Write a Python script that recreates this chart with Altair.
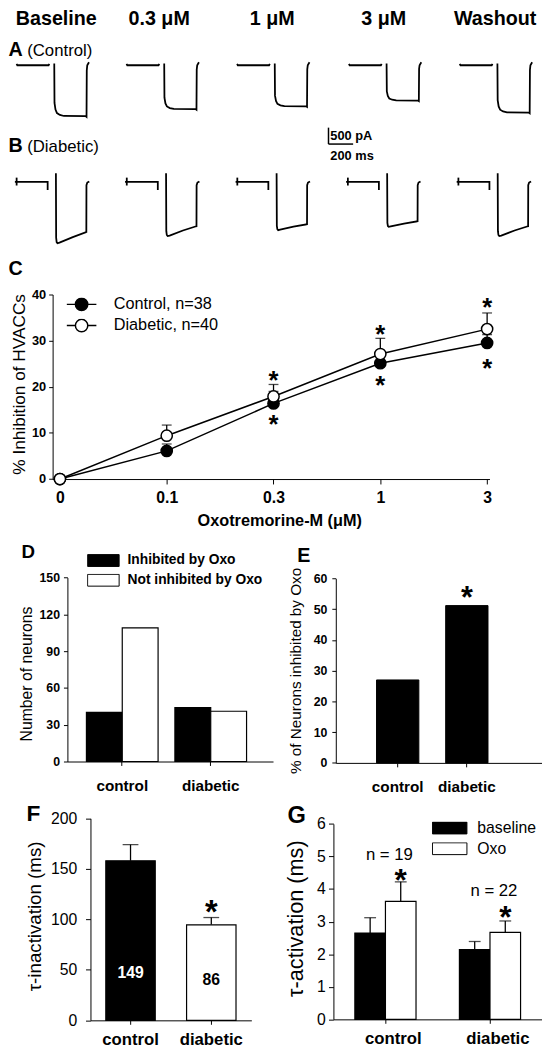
import altair as alt
import pandas as pd

FONT = "Liberation Sans"
OFF = 8
W, H = 542, 1042


def px(v):
    return v - OFF


# ---------------- data ----------------
conditions = ["Baseline", "0.3 μM", "1 μM", "3 μM", "Washout"]

# A: control traces (time in ms, current in pA)
a_hold_t = [0, 6, 260, 266]
a_hold_i = [40, 0, 0, 40]
a_step_t = [306, 308, 316, 328, 352, 384, 560, 568, 570, 574, 588]
a_step_baseline = [50, -1147, -1349, -1457, -1514, -1545, -1550, -1575, -155, 0, 90]
a_step_03 = [50, -988, -1161, -1255, -1304, -1331, -1335, -1356, -134, 0, 90]
a_step_1 = [50, -925, -1088, -1175, -1221, -1246, -1250, -1270, -125, 0, 90]
a_step_3 = [50, -796, -935, -1011, -1050, -1072, -1075, -1092, -108, 0, 90]
a_step_wash = [50, -1066, -1253, -1354, -1407, -1436, -1440, -1463, -144, 0, 90]

# B: diabetic traces
b_tick_t = [14, 14]
b_tick_i = [130, -110]
b_hold_t = [0, 266, 266]
b_hold_i = [0, 0, -250]
b_step_t = [333, 335, 339, 346, 362, 470, 578, 580, 581, 588, 604]
b_step_baseline = [260, -1702, -1833, -1870, -1851, -1680, -1530, -1550, -100, -20, 15]
b_step_03 = [260, -1502, -1617, -1650, -1634, -1480, -1350, -1370, -100, -20, 15]
b_step_1 = [260, -1338, -1441, -1470, -1455, -1365, -1290, -1310, -100, -20, 15]
b_step_3 = [260, -1247, -1343, -1370, -1356, -1270, -1200, -1220, -100, -20, 15]
b_step_wash = [260, -1502, -1617, -1650, -1634, -1480, -1350, -1370, -100, -20, 15]

scalebar_t = [0, 0, 0, 200]
scalebar_i = [500, 0, 0, 0]
scalebar_seg = [0, 0, 1, 1]

# C
conc_labels = ["0", "0.1", "0.3", "1", "3"]
series_c = ["Control, n=38", "Diabetic, n=40"]
ctrl_mean = [0, 6.1, 16.4, 25.1, 29.5]
ctrl_err = [0, 7.6, 19.0, 27.3, 31.3]
diab_mean = [0, 9.4, 17.9, 27.1, 32.5]
diab_err = [0, 11.7, 20.5, 30.5, 36.0]
star_conc = ["0.3", "1", "3", "0.3", "1", "3"]
star_y = [22.8, 32.8, 38.5, 13.2, 21.7, 25.4]

# D
groups = ["control", "diabetic"]
kinds_d = ["Inhibited by Oxo", "Not inhibited by Oxo"]
n_inhibited = [40, 44]
n_not_inhibited = [109, 41]

# E
pct_inhibited = [27.0, 51.2]
e_star_y = [56]

# F
tau_inact = [158, 94.6]
tau_inact_err = [174, 101.8]
tau_inact_n = ["149", "86"]
tau_inact_n_y = [46.5, 40]
f_star_y = [114.8]

# G
conds_g = ["baseline", "Oxo"]
tau_act_base = [2.65, 2.14]
tau_act_base_err = [3.12, 2.39]
tau_act_oxo = [3.62, 2.67]
tau_act_oxo_err = [4.22, 3.02]
g_n_text = ["n = 19", "n = 22"]
g_n_y = [5.05, 3.95]
g_star_y = [4.49, 3.38]

# ---------------- layout (page pixels) ----------------
A_X0 = [16.7, 128.3, 240.5, 354, 466.5]
B_X0 = [15, 126.8, 239, 351.2, 463.4]
A_Y0 = 58.3
B_Y0 = 176.7
MS_PER_PX = 8.0
PA_PER_PX = 30.0

BLACK = "black"
layers = []


def trace_df(segments):
    rows = []
    for s, (ts, cs) in enumerate(segments):
        for k, (t, c) in enumerate(zip(ts, cs)):
            rows.append({"seg": s, "k": k, "t": t, "i": c})
    return pd.DataFrame(rows)


def trace_layer(df, x0, y0):
    xs = alt.Scale(domain=[0, 600], range=[px(x0), px(x0 + 600 / MS_PER_PX)], nice=False, zero=False)
    ys = alt.Scale(domain=[-2000, 500], range=[px(y0 + 2000 / PA_PER_PX), px(y0 - 500 / PA_PER_PX)],
                   nice=False, zero=False)
    return alt.Chart(df).mark_line(color=BLACK, strokeWidth=1.8).encode(
        x=alt.X("t:Q", scale=xs, axis=None),
        y=alt.Y("i:Q", scale=ys, axis=None),
        detail="seg:N",
        order="k:Q",
    )


a_steps = [a_step_baseline, a_step_03, a_step_1, a_step_3, a_step_wash]
b_steps = [b_step_baseline, b_step_03, b_step_1, b_step_3, b_step_wash]
for j in range(5):
    layers.append(trace_layer(trace_df([(a_hold_t, a_hold_i), (a_step_t, a_steps[j])]), A_X0[j], A_Y0))
    layers.append(trace_layer(trace_df([(b_tick_t, b_tick_i), (b_hold_t, b_hold_i), (b_step_t, b_steps[j])]),
                              B_X0[j], B_Y0))

# scale bar
SB_X0, SB_Y0 = 333.3, 138.3
sb_x = alt.Scale(domain=[0, 600], range=[px(SB_X0), px(SB_X0 + 600 / MS_PER_PX)], nice=False, zero=False)
sb_y = alt.Scale(domain=[0, 500], range=[px(SB_Y0), px(SB_Y0 - 500 / PA_PER_PX)], nice=False, zero=False)
sb_df = pd.DataFrame({"t": scalebar_t, "i": scalebar_i, "seg": scalebar_seg, "k": [0, 1, 2, 3]})
sb_txt = pd.DataFrame({"t": [15, 15], "i": [250, -351], "s": ["500 pA", "200 ms"]})
layers.append(alt.layer(
    alt.Chart(sb_df).mark_line(color=BLACK, strokeWidth=1.5).encode(
        x=alt.X("t:Q", scale=sb_x, axis=None), y=alt.Y("i:Q", scale=sb_y, axis=None),
        detail="seg:N", order="k:Q"),
    alt.Chart(sb_txt).mark_text(font=FONT, fontSize=13, fontWeight="bold", align="left",
                                baseline="middle", color=BLACK).encode(
        x=alt.X("t:Q", scale=sb_x, axis=None), y=alt.Y("i:Q", scale=sb_y, axis=None), text="s:N"),
))


# ---------------- helpers ----------------
def label(text, x, y, size, weight="bold", align="left"):
    return alt.Chart(pd.DataFrame({"s": [text]})).mark_text(
        font=FONT, fontSize=size, fontWeight=weight, align=align, baseline="middle", color=BLACK
    ).encode(x=alt.value(px(x)), y=alt.value(px(y)), text="s:N")


def yaxis(ax_x, values, title, title_cx, title_cy, lsize, lweight, tsize, tick, pad):
    return alt.Axis(orient="left", offset=-px(ax_x), values=values, tickSize=tick, labelPadding=pad,
                    labelFontSize=lsize, labelFontWeight=lweight, labelFont=FONT, title=title,
                    titleFont=FONT, titleFontSize=tsize, titleFontWeight="normal",
                    titleX=title_cx - ax_x, titleY=px(title_cy), titleAngle=270, titleAlign="center",
                    titleBaseline="middle", grid=False, domainColor=BLACK, tickColor=BLACK,
                    labelColor=BLACK, titleColor=BLACK, labelOverlap=False)


def xaxis(ax_y, lsize, tick, pad, label_offset=0):
    return alt.Axis(orient="bottom", offset=px(ax_y) - H, tickSize=tick, labelPadding=pad,
                    labelFontSize=lsize, labelFontWeight="bold", labelFont=FONT, labelAngle=0,
                    labelOffset=label_offset, title=None, grid=False, domainColor=BLACK,
                    tickColor=BLACK, labelColor=BLACK, labelOverlap=False)


STAR = 0.27  # vertical centring of '*' for baseline middle

# ---------------- panel C ----------------
c_df = pd.DataFrame({
    "series": [series_c[0]] * 5 + [series_c[1]] * 5,
    "conc": conc_labels * 2,
    "mean": ctrl_mean + diab_mean,
    "err": ctrl_err + diab_err,
})
c_err_df = c_df[c_df["err"] > c_df["mean"]]
c_star_df = pd.DataFrame({"conc": star_conc, "y": star_y})

c_xs = alt.Scale(type="point", domain=conc_labels, range=[px(53.3), px(496.7)], padding=0.0452, align=0.755)
c_ys = alt.Scale(domain=[0, 40], range=[px(478.3), px(291)], nice=False, zero=False)
c_xa = alt.Axis(orient="bottom", offset=px(478.3) - H, tickSize=5, labelPadding=6, labelFontSize=16,
                labelFontWeight="bold", labelFont=FONT, labelAngle=0, title="Oxotremorine-M (μM)",
                titleFont=FONT, titleFontSize=16.5, titleFontWeight="bold", titleX=px(283.3), titleY=41.7,
                titleAlign="center", titleBaseline="middle", grid=False, domainColor=BLACK, tickColor=BLACK,
                labelColor=BLACK, titleColor=BLACK)
c_ya = yaxis(53.3, [0, 10, 20, 30, 40], "% Inhibition of HVACCs", 20, 381.7, 13, "bold", 17.5, 4, 3)
cX = alt.X("conc:N", scale=c_xs, axis=c_xa)
c_legend = alt.Legend(
    orient="none", legendX=px(66.7), legendY=px(301) - 7, title=None,
    symbolType="M-1,0H-0.42M0.42,0H1M-0.42,0A0.42,0.42,0,1,1,0.42,0A0.42,0.42,0,1,1,-0.42,0Z",
    symbolSize=900, symbolStrokeColor=BLACK, symbolStrokeWidth=1.5, labelFont=FONT, labelFontSize=16.5,
    labelColor=BLACK, labelOffset=16.6, clipHeight=14, rowPadding=4.5, padding=0)

panel_c = alt.layer(
    alt.Chart(c_df).mark_line(color=BLACK, strokeWidth=1.5).encode(
        x=cX, y=alt.Y("mean:Q", scale=c_ys, axis=c_ya), detail="series:N"),
    alt.Chart(c_err_df).mark_rule(color=BLACK, strokeWidth=1.3).encode(
        x=cX, y=alt.Y("mean:Q", scale=c_ys, axis=c_ya), y2="err:Q"),
    alt.Chart(c_err_df).mark_tick(color=BLACK, size=10, thickness=1.3).encode(
        x=cX, y=alt.Y("err:Q", scale=c_ys, axis=c_ya)),
    alt.Chart(c_df).mark_point(filled=True, size=130, stroke=BLACK, strokeWidth=1.5, opacity=1).encode(
        x=cX, y=alt.Y("mean:Q", scale=c_ys, axis=c_ya),
        fill=alt.Fill("series:N", scale=alt.Scale(domain=series_c, range=[BLACK, "white"]), legend=c_legend)),
    alt.Chart(c_star_df).mark_text(text="*", font=FONT, fontSize=26, fontWeight="bold", baseline="middle",
                                   dy=STAR * 26, color=BLACK).encode(
        x=cX, y=alt.Y("y:Q", scale=c_ys, axis=c_ya)),
)
layers.append(panel_c)

# ---------------- panel D ----------------
d_df = pd.DataFrame({"group": groups * 2, "kind": [kinds_d[0]] * 2 + [kinds_d[1]] * 2,
                     "n": n_inhibited + n_not_inhibited})
d_legend = alt.Legend(
    orient="none", legendX=px(88.3), legendY=px(561) - 6.5, title=None,
    symbolType="M-1,-0.375H1V0.375H-1Z", symbolSize=1024, symbolStrokeColor=BLACK, symbolStrokeWidth=1,
    labelFont=FONT, labelFontSize=14, labelFontWeight="bold", labelColor=BLACK, labelOffset=8,
    clipHeight=13, rowPadding=5, padding=0)
panel_d = alt.Chart(d_df).mark_bar(stroke=BLACK, strokeWidth=1.2).encode(
    x=alt.X("group:N", scale=alt.Scale(type="band", domain=groups, range=[px(68.3), px(277)],
                                       paddingInner=0.19, paddingOuter=0.257, align=0.418),
            axis=xaxis(765, 15.5, 4, 13)),
    xOffset=alt.XOffset("kind:N", scale=alt.Scale(domain=kinds_d, paddingInner=0, paddingOuter=0)),
    y=alt.Y("n:Q", scale=alt.Scale(domain=[0, 150], range=[px(765), px(578.3)], nice=False),
            axis=yaxis(68.3, [0, 30, 60, 90, 120, 150], "Number of neurons", 26.7, 675.7, 12.5, "bold", 16, 4, 4)),
    fill=alt.Fill("kind:N", scale=alt.Scale(domain=kinds_d, range=[BLACK, "white"]), legend=d_legend),
)
layers.append(panel_d)

# ---------------- panel E ----------------
e_df = pd.DataFrame({"group": groups, "pct": pct_inhibited})
e_star = pd.DataFrame({"group": ["diabetic"], "y": e_star_y})
e_xs = alt.Scale(type="band", domain=groups, range=[px(340.7), px(550)], paddingInner=0.388,
                 paddingOuter=0.685, align=0.43)
e_ys = alt.Scale(domain=[0, 60], range=[px(766.4), px(579.3)], nice=False)
e_xa = xaxis(766.4, 15.5, 4, 13)
e_ya = yaxis(340.7, [0, 10, 20, 30, 40, 50, 60], "% of Neurons inhibited by Oxo", 300, 672.5, 12.5, "bold",
             15.5, 4, 5)
panel_e = alt.layer(
    alt.Chart(e_df).mark_bar(fill=BLACK, stroke=BLACK, strokeWidth=1).encode(
        x=alt.X("group:N", scale=e_xs, axis=e_xa), y=alt.Y("pct:Q", scale=e_ys, axis=e_ya)),
    alt.Chart(e_star).mark_text(text="*", font=FONT, fontSize=31, fontWeight="bold", baseline="middle",
                                dy=STAR * 31, color=BLACK).encode(
        x=alt.X("group:N", scale=e_xs, axis=e_xa), y=alt.Y("y:Q", scale=e_ys, axis=e_ya)),
)
layers.append(panel_e)

# ---------------- panel F ----------------
f_df = pd.DataFrame({"group": groups, "tau": tau_inact, "err": tau_inact_err, "n": tau_inact_n,
                     "ny": tau_inact_n_y})
f_star = pd.DataFrame({"group": ["diabetic"], "y": f_star_y})
f_xs = alt.Scale(type="band", domain=groups, range=[px(91.7), px(255)], paddingInner=0.388, paddingOuter=0.19)
f_ys = alt.Scale(domain=[0, 200], range=[px(1027.7), px(822.7)], nice=False)
f_xa = xaxis(1027.7, 17, 4, 8)
f_ya = yaxis(91.7, [0, 50, 100, 150, 200], "τ-inactivation (ms)", 35, 921.7, 16, "normal", 19, 5, 9)
fX = alt.X("group:N", scale=f_xs, axis=f_xa)
panel_f = alt.layer(
    alt.Chart(f_df).mark_rule(color=BLACK, strokeWidth=1.3).encode(
        x=fX, y=alt.Y("tau:Q", scale=f_ys, axis=f_ya), y2="err:Q"),
    alt.Chart(f_df).mark_tick(color=BLACK, size=16, thickness=1.3).encode(
        x=fX, y=alt.Y("err:Q", scale=f_ys, axis=f_ya)),
    alt.Chart(f_df).mark_bar(stroke=BLACK, strokeWidth=1.2).encode(
        x=fX, y=alt.Y("tau:Q", scale=f_ys, axis=f_ya),
        fill=alt.Fill("group:N", scale=alt.Scale(domain=groups, range=[BLACK, "white"]), legend=None)),
    alt.Chart(f_df).mark_text(font=FONT, fontSize=16, fontWeight="bold", baseline="middle").encode(
        x=fX, y=alt.Y("ny:Q", scale=f_ys, axis=f_ya), text="n:N",
        color=alt.Color("group:N", scale=alt.Scale(domain=groups, range=["white", BLACK]), legend=None)),
    alt.Chart(f_star).mark_text(text="*", font=FONT, fontSize=33, fontWeight="bold", baseline="middle",
                                dy=STAR * 33, color=BLACK).encode(
        x=fX, y=alt.Y("y:Q", scale=f_ys, axis=f_ya)),
)
layers.append(panel_f)

# ---------------- panel G ----------------
g_df = pd.DataFrame({
    "group": groups * 2,
    "cond": [conds_g[0]] * 2 + [conds_g[1]] * 2,
    "tau": tau_act_base + tau_act_oxo,
    "err": tau_act_base_err + tau_act_oxo_err,
})
g_txt = pd.DataFrame({"group": groups, "s": g_n_text, "y": g_n_y})
g_star = pd.DataFrame({"group": groups, "cond": ["Oxo", "Oxo"], "y": g_star_y})
g_xs = alt.Scale(type="band", domain=groups, range=[px(338.3), px(550)], paddingInner=0.415, paddingOuter=0.205)
g_os = alt.Scale(domain=conds_g, paddingInner=0, paddingOuter=0)
g_ys = alt.Scale(domain=[0, 6], range=[px(1026.7), px(828.3)], nice=False)
g_xa = xaxis(1026.7, 17, 4, 8, label_offset=8)
g_ya = yaxis(338.3, [0, 1, 2, 3, 4, 5, 6], "τ-activation (ms)", 300, 924, 16, "normal", 22, 5, 3.3)
gX = alt.X("group:N", scale=g_xs, axis=g_xa)
gO = alt.XOffset("cond:N", scale=g_os)
g_legend = alt.Legend(
    orient="none", legendX=px(438.3), legendY=px(832.5) - 6.5, title=None,
    symbolType="M-1,-0.343H1V0.343H-1Z", symbolSize=1225, symbolStrokeColor=BLACK, symbolStrokeWidth=1,
    labelFont=FONT, labelFontSize=16, labelColor=BLACK, labelOffset=10, clipHeight=13, rowPadding=4,
    padding=0)
panel_g = alt.layer(
    alt.Chart(g_df).mark_rule(color=BLACK, strokeWidth=1.3).encode(
        x=gX, xOffset=gO, y=alt.Y("tau:Q", scale=g_ys, axis=g_ya), y2="err:Q"),
    alt.Chart(g_df).mark_tick(color=BLACK, size=12, thickness=1.3).encode(
        x=gX, xOffset=gO, y=alt.Y("err:Q", scale=g_ys, axis=g_ya)),
    alt.Chart(g_df).mark_bar(stroke=BLACK, strokeWidth=1.2).encode(
        x=gX, xOffset=gO, y=alt.Y("tau:Q", scale=g_ys, axis=g_ya),
        fill=alt.Fill("cond:N", scale=alt.Scale(domain=conds_g, range=[BLACK, "white"]), legend=g_legend)),
    alt.Chart(g_txt).mark_text(font=FONT, fontSize=17, baseline="middle", dx=4, color=BLACK).encode(
        x=gX, y=alt.Y("y:Q", scale=g_ys, axis=g_ya), text="s:N"),
    alt.Chart(g_star).mark_text(text="*", font=FONT, fontSize=32, fontWeight="bold", baseline="middle",
                                dy=STAR * 32, color=BLACK).encode(
        x=gX, xOffset=gO, y=alt.Y("y:Q", scale=g_ys, axis=g_ya)),
)
layers.append(panel_g)

# ---------------- headers and panel letters ----------------
header_x = [57, 161.4, 276.2, 389.3, 502.4]
for name, hx in zip(conditions, header_x):
    layers.append(label(name, hx, 11.7, 20, "bold", "center"))

layers += [
    label("A", 8.5, 43.3, 20),
    label("(Control)", 27.5, 44, 17, "normal"),
    label("B", 8.5, 140.8, 20),
    label("(Diabetic)", 27.5, 141, 17, "normal"),
    label("C", 8.5, 265, 20),
    label("D", 21.7, 552.5, 19),
    label("E", 301.7, 556, 20),
    label("F", 26.7, 818, 23),
    label("G", 291.7, 820, 24),
]

chart = alt.layer(*layers).resolve_scale(
    x="independent", y="independent", fill="independent", color="independent", xOffset="independent"
).properties(
    width=W, height=H, padding=0, autosize=alt.AutoSizeParams(type="none")
).configure(font=FONT).configure_view(stroke=None)

chart.save("out.html", embed_options={"renderer": "svg", "actions": False})
